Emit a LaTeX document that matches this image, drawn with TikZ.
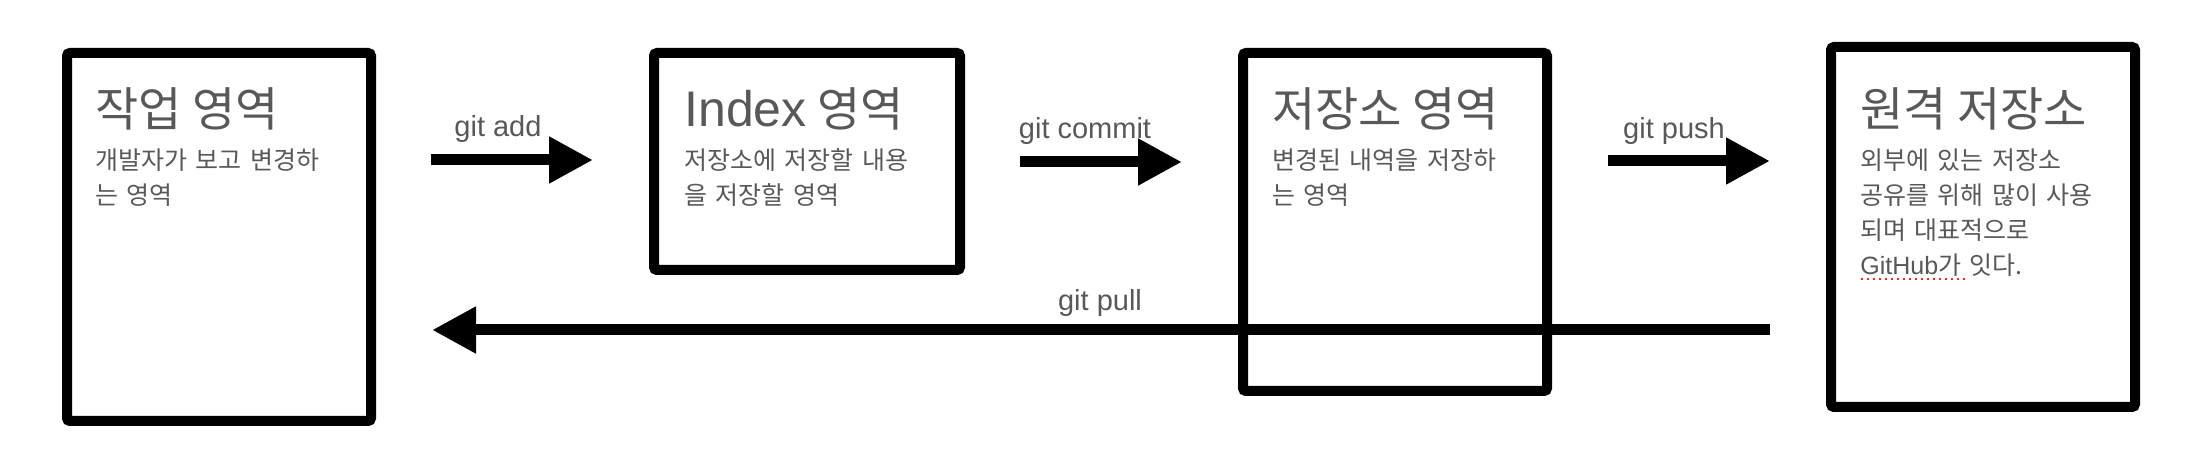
\documentclass[tikz,border=0pt]{standalone}
\usepackage{fontspec}
\setmainfont{Liberation Sans}
\newfontfamily\kr{Noto Sans CJK KR}
\usetikzlibrary{arrows.meta}
\definecolor{ink}{RGB}{88,88,88}

\begin{document}
\begin{tikzpicture}[
  x = 0.5pt, y = -0.5pt,
  area/.style = {
    shape = rectangle,
    draw = black,
    line width = 5pt,
    rounded corners = 1.5pt,
    minimum width = 152pt,
  },
  title/.style = {
    anchor = base west,
    inner sep = 0pt,
    text = ink,
    font = \kr\fontsize{23.5pt}{28pt}\selectfont
  },
  body/.style = {
    anchor = base west,
    inner sep = 0pt,
    text width = 140pt,
    align = left,
    text = ink,
    font = \kr\fontsize{12.5pt}{17.5pt}\selectfont
  },
  cmd/.style = {
    anchor = base,
    inner sep = 0pt,
    text = ink,
    font = \fontsize{14.5pt}{17pt}\selectfont
  },
  flow/.style = {
    line width = 5.5pt,
    -{Triangle[length = 22pt, width = 22pt]}
  }
]
  \useasboundingbox (0, 0) rectangle (2202, 464);

  \node[area, minimum height = 184pt] (work) at (219, 237) {};
  \node[area, minimum width = 153pt, minimum height = 108.5pt] (index) at (807, 161.5) {};
  \node[area, minimum height = 169pt] (repo) at (1395, 222) {};
  \node[area, minimum height = 180pt] (remote) at (1983, 227) {};

  \node[title] (work-t) at (95, 127) {작업 영역};
  \node[body] (work-b) at (95, 170) {개발자가 보고 변경하\\는 영역};

  \node[title] (index-t) at (684, 127) {{\rmfamily\fontsize{25pt}{28pt}\selectfont Index} 영역};
  \node[body] (index-b) at (684, 170) {저장소에 저장할 내용\\을 저장할 영역};

  \node[title] (repo-t) at (1272, 127) {저장소 영역};
  \node[body] (repo-b) at (1272, 170) {변경된 내역을 저장하\\는 영역};

  \node[title] (remote-t) at (1860, 127) {원격 저장소};
  \node[body] (remote-b) at (1860, 170) {외부에 있는 저장소\\공유를 위해 많이 사용\\되며 대표적으로\\{\rmfamily GitHub}가 잇다.};
  \draw[red!85, dotted, line width = 1pt] (1861, 279) -- (1968, 279);

  \coordinate (add-s) at (431, 160);
  \coordinate (add-e) at (593, 160);
  \coordinate (commit-s) at (1020, 162);
  \coordinate (commit-e) at (1182, 162);
  \coordinate (push-s) at (1608, 161);
  \coordinate (push-e) at (1770, 161);
  \coordinate (pull-s) at (1770, 330);
  \coordinate (pull-e) at (432, 330);

  \draw[flow] (add-s) -- (add-e);
  \draw[flow] (commit-s) -- (commit-e);
  \draw[flow] (push-s) -- (push-e);
  \draw[flow] (pull-s) -- (pull-e);

  \node[cmd] (add) at (498, 137) {git add};
  \node[cmd] (commit) at (1085, 139) {git commit};
  \node[cmd] (push) at (1674, 139) {git push};
  \node[cmd] (pull) at (1100, 311) {git pull};
\end{tikzpicture}
\end{document}
